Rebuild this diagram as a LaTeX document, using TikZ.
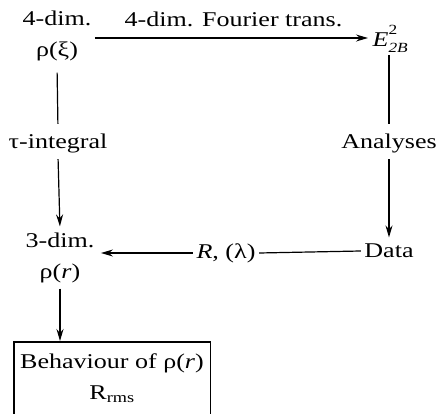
\documentclass[tikz,border=0pt]{standalone}
\usepackage{fontspec}
\setmainfont{Liberation Serif}[FakeStretch=1.24]
\usetikzlibrary{arrows.meta}
\tikzset{
	lbl/.style={inner sep=3pt, align=center, font=\fontsize{21}{31}\selectfont},
	arr/.style={-{Stealth[length=12pt,width=7pt,inset=4pt]}},
}
\newcommand{\smallsz}{\fontsize{14}{14}\selectfont}

\begin{document}
\begin{tikzpicture}[x=1pt,y=-1pt,line width=1.2pt]
			\useasboundingbox (0,0) rectangle (437,414);
			\node[lbl] (rhofour) at (57,36) {4-dim.\\ρ(ξ)};
			\node[lbl,anchor=west,inner sep=0pt] (etwo) at (372,39) {\textit{E}\rlap{\raisebox{0.55em}{\smallsz 2}}\raisebox{-0.3em}{\smallsz\textit{2B}}};
			\node[lbl] (tau) at (58,143) {τ-integral};
			\node[lbl] (anal) at (389,143) {Analyses};
			\node[lbl] (rhothree) at (60,258) {3-dim.\\ρ(\textit{r})};
			\node[lbl] (data) at (389,251) {Data};
			\node[lbl] (rlam) at (226,253) {\textit{R}, (λ)};
			\node[lbl,minimum width=195pt,minimum height=72pt,anchor=north] (behave) at (112,342) {Behaviour of ρ(\textit{r})\\R\textsubscript{rms}};
			\draw[arr,shorten >=4pt] (rhofour.east |- 0,38) -- (etwo.west |- 0,38) node[lbl,midway,above=8pt] {4-dim. Fourier trans.};
			\draw[shorten <=8pt,shorten >=6pt] (rhofour.south) -- (tau.north);
			\draw[arr,shorten <=3pt,shorten >=3pt] (tau.south) -- (rhothree.north);
			\draw[shorten <=2pt,shorten >=6pt] (anal.north |- etwo.south) -- (anal.north);
			\draw[arr,shorten <=3pt,shorten >=3pt] (anal.south) -- (data.north);
			\draw (data.west) -- (rlam.east);
			\draw[arr,shorten >=3pt] (rlam.west) -- (rlam.west -| rhothree.east);
			\draw[arr,shorten <=2pt,shorten >=1pt] (rhothree.south) -- (rhothree.south |- behave.north);
			\draw (behave.south west) -- (behave.north west) -- (behave.north east) -- (behave.south east);
\end{tikzpicture}
\end{document}
